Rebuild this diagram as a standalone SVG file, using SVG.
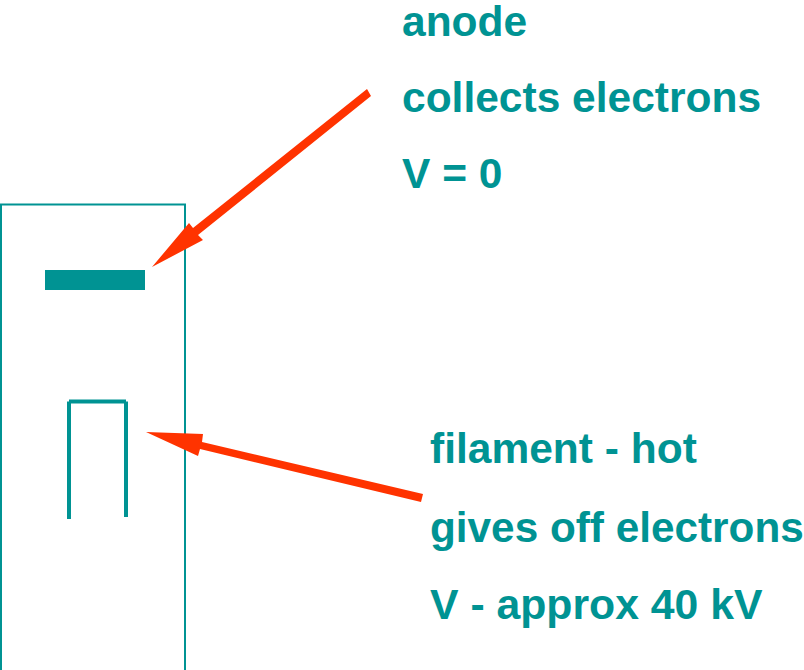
<svg xmlns="http://www.w3.org/2000/svg" width="804" height="670" viewBox="0 0 804 670">
<style>
text{font-family:"Liberation Sans",Arial,sans-serif;font-weight:bold;font-size:42.5px;fill:#009393}
.l{fill:none;stroke:#009393}
.h{fill:#ff3300}
</style>
<rect width="804" height="670" fill="#fff"/>
<g id="tube"><path class="l" stroke-width="2" d="M1 670V204.500H185V670"/></g>
<g id="anode"><rect x="45" y="270" width="100" height="20" fill="#009393"/></g>
<g id="filament"><path class="l" stroke-width="4" d="M69 519V401.500M126 517V401.500M69 401.500H126"/></g>
<g id="connectors">
<polygon class="h" points="367,89 371,96 198,235 203,240 152,267 189,223 193,228"/>
<polygon class="h" points="423,494 421,502 200,449 198,456 146,432 203,434 202,442"/>
</g>
<g id="anode-label"><text x="402" y="36">anode</text><text x="402" y="112">collects electrons</text><text x="402" y="188">V = 0</text></g>
<g id="filament-label"><text x="430" y="463">filament - hot</text><text x="430" y="542" textLength="373.800" lengthAdjust="spacingAndGlyphs">gives off electrons</text><text x="430" y="619" textLength="332.500" lengthAdjust="spacingAndGlyphs">V - approx 40 kV</text></g>
</svg>
